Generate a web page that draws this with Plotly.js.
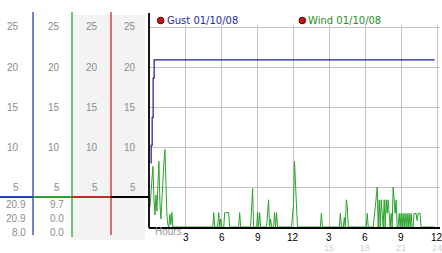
<!DOCTYPE html>
<html>
<head>
<meta charset="utf-8">
<script src="https://cdn.plot.ly/plotly-3.0.1.min.js"></script>
<style>html,body{margin:0;padding:0;background:#fff;}#chart{width:442px;height:253px;}</style>
</head>
<body>
<div id="chart"></div>
<script>
// ---- data ----
const seriesNames = ['Gust 01/10/08', 'Wind 01/10/08'];
const gustMinutes = [3, 6, 11, 16, 21, 1428];
const gustValues  = [8.0, 10.2, 13.7, 18.6, 20.9, 20.9];
const windMinutes = [0,5,10,15,20,25,30,35,40,45,50,55,60,65,70,75,80,85,90,95,100,105,110,115,
  315,320,325,340,345,350,355,360,370,375,380,385,390,395,400,445,450,455,505,510,515,520,535,540,545,550,555,
  585,590,595,600,605,610,620,625,630,635,640,710,715,720,725,730,735,740,
  855,860,865,950,955,960,970,975,980,985,990,995,1085,1090,1095,
  1120,1125,1130,1135,1140,1145,1150,1155,1160,1165,1170,1175,1180,1185,1190,1195,1200,1205,1210,1215,
  1220,1225,1230,1235,1240,1245,1250,1255,1260,1265,1270,1275,1280,1285,1290,1295,1300,1305,1310,1315,
  1320,1325,1330,1335,1340,1345,1350,1355,1360,1428];
const windValues  = [2.5,4.5,6.0,7.6,3.5,1.5,4.0,2.0,5.5,8.2,3.0,1.0,3.5,6.5,8.0,9.7,4.0,1.5,0.3,0,1.6,0.3,1.8,0,
  0,1.8,0,0,1.8,0,1.0,0,0,1.8,1.8,1.8,1.8,1.8,0,0,1.8,0,0,2.4,4.8,0,0,1.8,0,1.8,0,
  0,1.8,3.4,0,1.0,0,0,1.8,0,1.8,0,0,1.8,2.8,8.2,4.8,1.2,0,
  0,1.7,0,0,1.7,0,0,1.2,0,3.4,2.5,0,0,1.7,0,
  0,1.2,2.7,3.2,5.0,0,3.4,0,3.4,1.7,0,3.4,0,3.4,1.7,3.4,1.7,0,1.7,0,
  5.0,3.4,1.7,3.4,0,0,1.7,0,1.7,0,1.7,0,1.7,0,1.7,0,1.7,0,1.7,0,
  0,1.7,1.7,1.7,0.8,1.7,1.7,1.7,0,0];
const yTicks = [5, 10, 15, 20, 25];
const xTickHours = [3, 6, 9, 12, 15, 18, 21, 24];
const xTickText  = ['3', '6', '9', '12', '3', '6', '9', '12'];
const x24Hours = [15, 18, 21, 24];
const x24Text  = ['15', '18', '21', '24'];
const gustStats = ['20.9', '20.9', '8.0'];
const windStats = ['9.7', '0.0', '0.0'];
const xAxisName = 'Hours';

// ---- layout helpers (pixel -> paper) ----
const W = 442, H = 253;
const P = px => px / W;
const Q = py => 1 - py / H;

const BLUE = '#1f3fc4', GREEN = '#2f9f2f', RED = '#c42b2b';
const LABEL = '#8c8c8c';
const F = 'Liberation Sans, Arial, sans-serif';

const toH = m => m / 60;
const tickMark = {symbol: 'asterisk-open', size: 5, color: '#222', line: {color: '#222', width: 1}};

const traces = [
  {x: gustMinutes.map(toH), y: gustValues, name: seriesNames[0], mode: 'lines',
   line: {color: '#1c1c96', width: 1.2, shape: 'hv'}, cliponaxis: false, showlegend: false},
  {x: windMinutes.map(toH), y: windValues, name: seriesNames[1], mode: 'lines',
   line: {color: '#2aa32a', width: 1}, cliponaxis: false, showlegend: false},
  {x: yTicks.map(() => -0.28), y: yTicks, mode: 'markers', marker: tickMark, cliponaxis: false,
   showlegend: false, hoverinfo: 'skip'},
  {x: xTickHours, y: xTickHours.map(() => -0.4), mode: 'markers', marker: tickMark, cliponaxis: false,
   showlegend: false, hoverinfo: 'skip'}
];

const shapes = [];
function line(x0, y0, x1, y1, color, width) {
  shapes.push({type: 'line', xref: 'paper', yref: 'paper', x0: P(x0), x1: P(x1), y0: Q(y0), y1: Q(y1),
    line: {color: color, width: width}});
}
function rect(x0, y0, x1, y1, color) {
  shapes.push({type: 'rect', xref: 'paper', yref: 'paper', x0: P(x0), x1: P(x1), y0: Q(y1), y1: Q(y0),
    fillcolor: color, line: {width: 0}, layer: 'below'});
}
rect(72, 15, 111, 240, '#f3f3f3');
rect(111, 15, 145, 240, '#f3f3f3');
line(33, 12, 33, 235, BLUE, 1.3);
line(72, 12, 72, 237, GREEN, 1.3);
line(111, 12, 111, 235, RED, 1.3);
line(0, 197, 33, 197, BLUE, 2.2);
line(33, 197, 72, 197, GREEN, 2.2);
line(72, 197, 111, 197, RED, 2.2);
line(111, 197, 149, 197, '#000', 2.2);
line(149, 13, 149, 228, '#000', 1.8);
// legend dots
[[160.7, 20.5], [302.3, 20.5]].forEach(c => shapes.push({type: 'circle', xref: 'paper', yref: 'paper',
  x0: P(c[0] - 3.3), x1: P(c[0] + 3.3), y0: Q(c[1] + 3.3), y1: Q(c[1] - 3.3),
  fillcolor: '#cc1010', line: {color: '#4a0000', width: 1}}));

const ann = [];
const colRight = [20, 61, 99, 137];
yTicks.forEach(v => {
  colRight.forEach(r => ann.push({xref: 'paper', yref: 'y', x: P(r + 1), y: v, xanchor: 'right', yanchor: 'middle',
    text: String(v), showarrow: false, font: {family: F, size: 10, color: LABEL}}));
});
xTickHours.forEach((h, i) => ann.push({xref: 'x', yref: 'paper', x: h, y: Q(237.5), xanchor: 'center', yanchor: 'middle',
  text: xTickText[i], showarrow: false, font: {family: F, size: 10, color: '#000'}}));
x24Hours.forEach((h, i) => ann.push({xref: 'x', yref: 'paper', x: h, y: Q(248), xanchor: 'center', yanchor: 'middle',
  text: x24Text[i], showarrow: false, font: {family: F, size: 9, color: '#cfcfcf'}}));
ann.push({xref: 'paper', yref: 'paper', x: P(153), y: Q(231.5), xanchor: 'left', yanchor: 'middle',
  text: xAxisName, showarrow: false, font: {family: F, size: 10, color: '#999'}});
const rowsY = [204, 218, 232];
gustStats.forEach((t, i) => ann.push({xref: 'paper', yref: 'paper', x: P(28), y: Q(rowsY[i]), xanchor: 'right', yanchor: 'middle',
  text: t, showarrow: false, font: {family: F, size: 10, color: LABEL}}));
windStats.forEach((t, i) => ann.push({xref: 'paper', yref: 'paper', x: P(66), y: Q(rowsY[i]), xanchor: 'right', yanchor: 'middle',
  text: t, showarrow: false, font: {family: F, size: 10, color: LABEL}}));
ann.push({xref: 'paper', yref: 'paper', x: P(164.5), y: Q(20.5), xanchor: 'left', yanchor: 'middle',
  text: seriesNames[0], showarrow: false, font: {family: 'DejaVu Sans', size: 10, color: '#1c2c9c'}});
ann.push({xref: 'paper', yref: 'paper', x: P(306), y: Q(20.5), xanchor: 'left', yanchor: 'middle',
  text: seriesNames[1], showarrow: false, font: {family: 'DejaVu Sans', size: 10, color: '#1f8f1f'}});

const layout = {
  width: W, height: H, autosize: false,
  margin: {l: 0, r: 0, t: 0, b: 0, pad: 0},
  paper_bgcolor: '#fff', plot_bgcolor: '#fff',
  showlegend: false,
  xaxis: {domain: [P(149), P(440)], range: [-0.08, 24.25], tickvals: xTickHours, showticklabels: false,
    showgrid: true, gridcolor: '#c4c4c4', gridwidth: 1, zeroline: false, ticks: '',
    showline: true, linecolor: '#000', linewidth: 2},
  yaxis: {domain: [Q(227), Q(25)], range: [0, 25.25], tickvals: yTicks, showticklabels: false,
    showgrid: true, gridcolor: '#c4c4c4', gridwidth: 1, zeroline: false, ticks: '', showline: false},
  shapes: shapes,
  annotations: ann
};
Plotly.newPlot('chart', traces, layout, {staticPlot: true, displayModeBar: false});
</script>
</body>
</html>
